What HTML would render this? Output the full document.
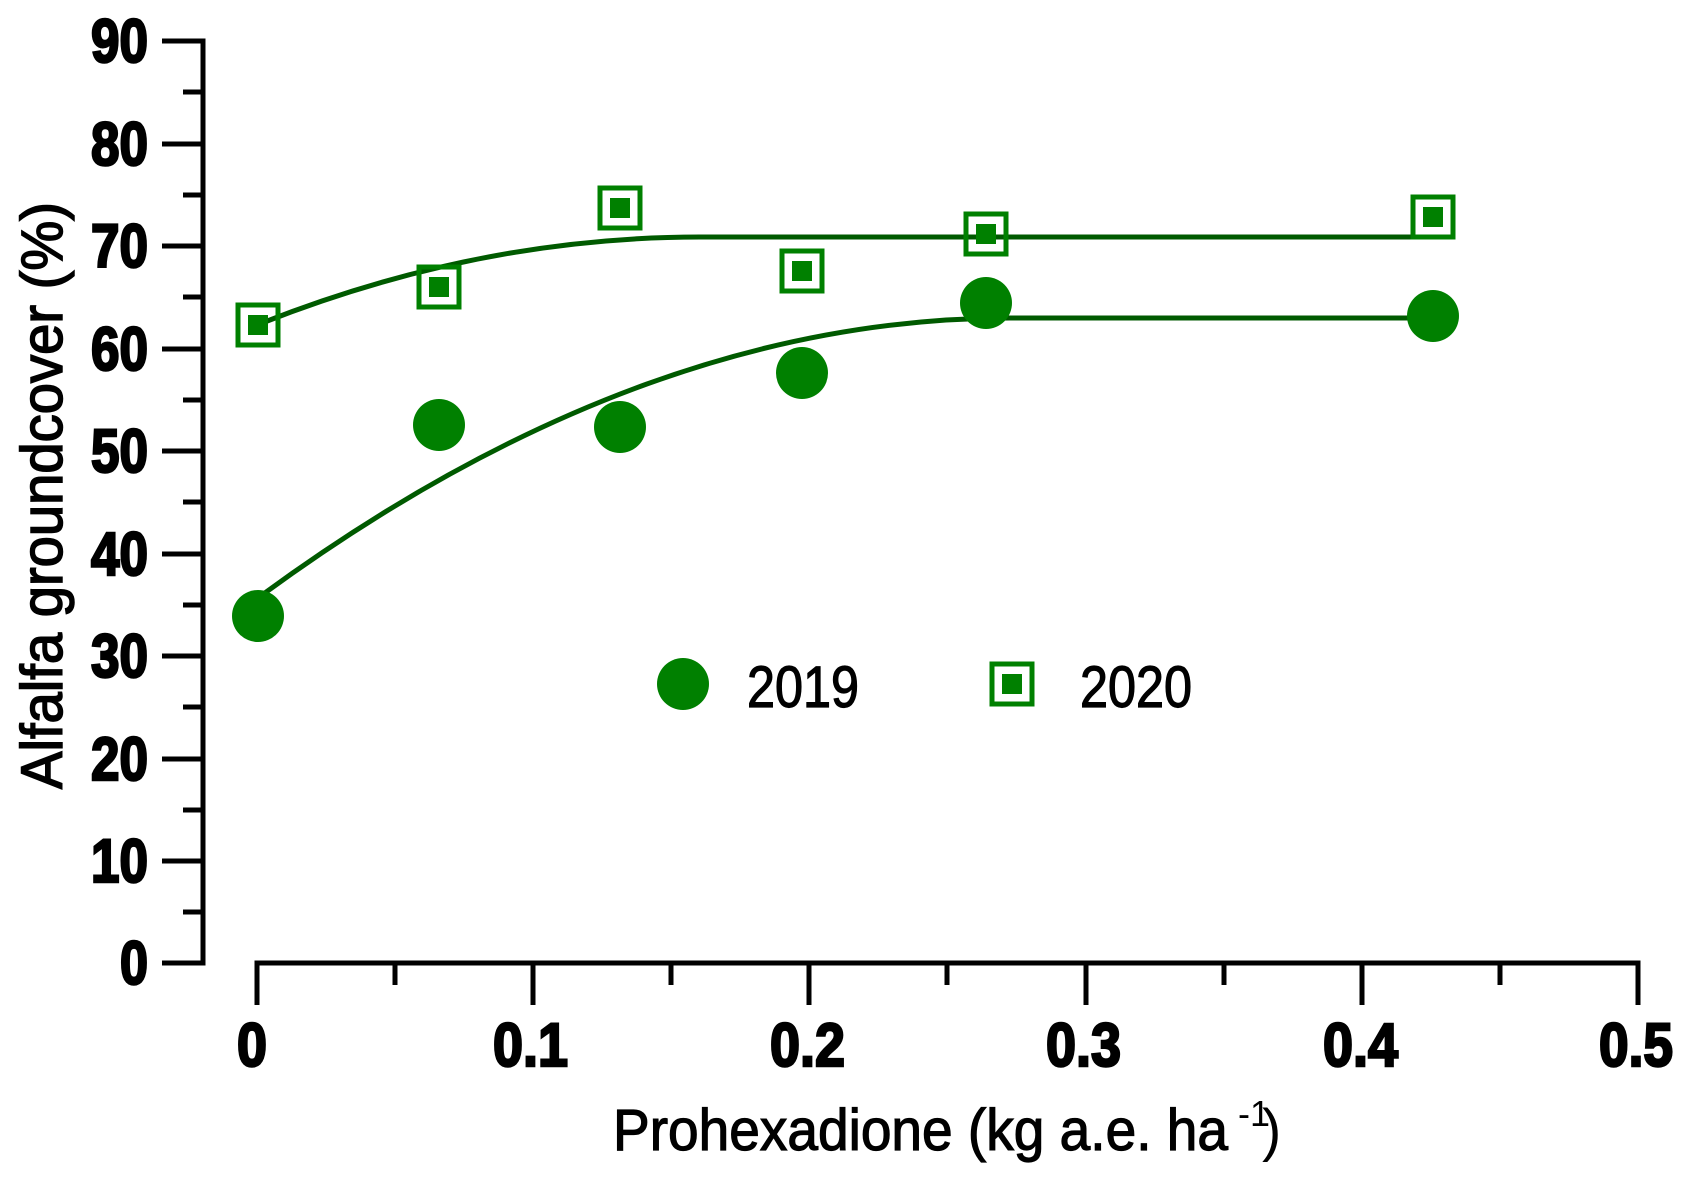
<!DOCTYPE html>
<html><head><meta charset="utf-8"><style>html,body{margin:0;padding:0;background:#fff}svg{display:block}</style></head>
<body>
<svg width="1686" height="1181" viewBox="0 0 1686 1181" xmlns="http://www.w3.org/2000/svg">
<g stroke="#000" stroke-width="5" fill="none">
  <path d="M162,41 H203 V963 H162"/>
  <path d="M162,144 H203 M162,246 H203 M162,349 H203 M162,451 H203 M162,554 H203 M162,656 H203 M162,759 H203 M162,861 H203"/>
  <path d="M183,92 H203 M183,195 H203 M183,297 H203 M183,400 H203 M183,502 H203 M183,605 H203 M183,707 H203 M183,810 H203 M183,912 H203"/>
  <path d="M257,1005 V963 H1638 V1005"/>
  <path d="M533,963 V1005 M809,963 V1005 M1086,963 V1005 M1362,963 V1005"/>
  <path d="M395,963 V985 M671,963 V985 M947,963 V985 M1224,963 V985 M1500,963 V985"/>
</g>
<g font-family="Liberation Sans, sans-serif" font-weight="bold" font-size="61" fill="#000" stroke="#000" stroke-width="2.5" text-anchor="end">
  <text x="148" y="62" textLength="57" lengthAdjust="spacingAndGlyphs">90</text>
  <text x="148" y="165" textLength="57" lengthAdjust="spacingAndGlyphs">80</text>
  <text x="148" y="267" textLength="57" lengthAdjust="spacingAndGlyphs">70</text>
  <text x="148" y="370" textLength="57" lengthAdjust="spacingAndGlyphs">60</text>
  <text x="148" y="472" textLength="57" lengthAdjust="spacingAndGlyphs">50</text>
  <text x="148" y="575" textLength="57" lengthAdjust="spacingAndGlyphs">40</text>
  <text x="148" y="677" textLength="57" lengthAdjust="spacingAndGlyphs">30</text>
  <text x="148" y="780" textLength="57" lengthAdjust="spacingAndGlyphs">20</text>
  <text x="148" y="882" textLength="57" lengthAdjust="spacingAndGlyphs">10</text>
  <text x="148" y="984" textLength="28" lengthAdjust="spacingAndGlyphs">0</text>
</g>
<g font-family="Liberation Sans, sans-serif" font-weight="bold" font-size="61" fill="#000" stroke="#000" stroke-width="2.5">
  <text x="237" y="1066" textLength="30" lengthAdjust="spacingAndGlyphs">0</text>
  <text x="493" y="1066" textLength="75" lengthAdjust="spacingAndGlyphs">0.1</text>
  <text x="770" y="1066" textLength="75" lengthAdjust="spacingAndGlyphs">0.2</text>
  <text x="1046" y="1066" textLength="75" lengthAdjust="spacingAndGlyphs">0.3</text>
  <text x="1323" y="1066" textLength="75" lengthAdjust="spacingAndGlyphs">0.4</text>
  <text x="1599" y="1066" textLength="74" lengthAdjust="spacingAndGlyphs">0.5</text>
</g>
<text transform="translate(62,789) rotate(-90)" font-family="Liberation Sans, sans-serif" font-size="58" fill="#000" stroke="#000" stroke-width="1.5" textLength="587" lengthAdjust="spacingAndGlyphs">Alfalfa groundcover (%)</text>
<text x="613" y="1150" font-family="Liberation Sans, sans-serif" font-size="58" fill="#000" stroke="#000" stroke-width="1.2" textLength="615" lengthAdjust="spacingAndGlyphs">Prohexadione (kg a.e. ha</text>
<text x="1238" y="1126" font-family="Liberation Sans, sans-serif" font-size="36" fill="#000">-1</text>
<text x="1262" y="1150" font-family="Liberation Sans, sans-serif" font-size="58" fill="#000">)</text>
<g fill="none" stroke="#005a00" stroke-width="5">
  <path d="M262,323 Q480,237 700,237 L1433,237"/>
  <path d="M262,595 Q640,318 1010,318 L1433,318"/>
</g>
<g fill="#008000">
  <circle cx="258" cy="616" r="26"/>
  <circle cx="439" cy="425" r="26"/>
  <circle cx="620" cy="427" r="26"/>
  <circle cx="802" cy="373" r="26"/>
  <circle cx="986" cy="303" r="26"/>
  <circle cx="1433" cy="316" r="26"/>
  <circle cx="683" cy="684" r="26"/>
</g>
<g>
  <g transform="translate(258,325)"><rect x="-20" y="-20" width="40" height="40" fill="none" stroke="#008000" stroke-width="5"/><rect x="-10" y="-10" width="20" height="20" fill="#008000"/></g>
  <g transform="translate(439,287)"><rect x="-20" y="-20" width="40" height="40" fill="none" stroke="#008000" stroke-width="5"/><rect x="-10" y="-10" width="20" height="20" fill="#008000"/></g>
  <g transform="translate(620,208)"><rect x="-20" y="-20" width="40" height="40" fill="none" stroke="#008000" stroke-width="5"/><rect x="-10" y="-10" width="20" height="20" fill="#008000"/></g>
  <g transform="translate(802,271)"><rect x="-20" y="-20" width="40" height="40" fill="none" stroke="#008000" stroke-width="5"/><rect x="-10" y="-10" width="20" height="20" fill="#008000"/></g>
  <g transform="translate(986,234)"><rect x="-20" y="-20" width="40" height="40" fill="none" stroke="#008000" stroke-width="5"/><rect x="-10" y="-10" width="20" height="20" fill="#008000"/></g>
  <g transform="translate(1433,217)"><rect x="-20" y="-20" width="40" height="40" fill="none" stroke="#008000" stroke-width="5"/><rect x="-10" y="-10" width="20" height="20" fill="#008000"/></g>
  <g transform="translate(1012,684)"><rect x="-20" y="-20" width="40" height="40" fill="none" stroke="#008000" stroke-width="5"/><rect x="-10" y="-10" width="20" height="20" fill="#008000"/></g>
</g>
<g font-family="Liberation Sans, sans-serif" font-size="58" fill="#000" stroke="#000" stroke-width="1.2">
  <text x="747" y="707" textLength="112" lengthAdjust="spacingAndGlyphs">2019</text>
  <text x="1080" y="707" textLength="112" lengthAdjust="spacingAndGlyphs">2020</text>
</g>
</svg>
</body></html>
